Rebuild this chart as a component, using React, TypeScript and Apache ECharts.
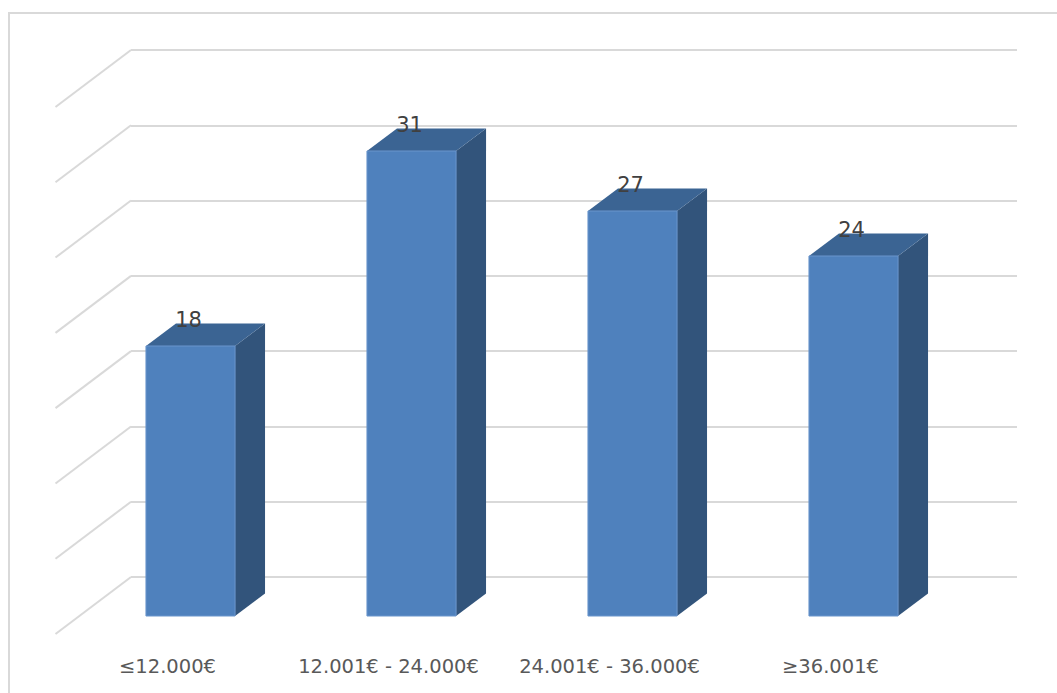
import React, { useEffect, useRef } from "react";
import * as echarts from "echarts";

// Income brackets and their counts
const categories = ["≤12.000€", "12.001€ - 24.000€", "24.001€ - 36.000€", "≥36.001€"];
const counts = [18, 31, 27, 24];

// Value axis range shared by the back wall and the bars
const axisMin = 0;
const axisMax = 35;
const axisStep = 5;
const wallTicks = [0, 5, 10, 15, 20, 25, 30, 35];

// Pseudo-3D geometry
const DEPTH_X = 30;
const DEPTH_Y = 22.5;
const WALL_X = 75.5;
const WALL_Y = 57;

const FRONT = "#4F81BD";
const TOP = "#3B6493";
const SIDE = "#32547B";
const GRID = "#d9d9d9";
const FONT = "DejaVu Sans";

export default function App() {
  const ref = useRef<HTMLDivElement>(null);

  useEffect(() => {
    if (!ref.current) return;
    const chart = echarts.init(ref.current, undefined, { renderer: "svg" });

    const option: any = {
      animation: false,
      backgroundColor: "#ffffff",
      graphic: [
        {
          type: "rect",
          shape: { x: 9, y: 13, width: 1100, height: 720 },
          style: { fill: "none", stroke: GRID, lineWidth: 2 },
          silent: true,
        },
      ],
      grid: [
        // back wall
        { left: 131, top: 50, width: 886, height: 527 },
        // front plane of the columns
        { left: 80, top: 91, width: 884, height: 525 },
      ],
      xAxis: [
        { type: "category", gridIndex: 0, data: categories, show: false },
        {
          type: "category",
          gridIndex: 1,
          data: categories,
          axisLine: { show: false },
          axisTick: { show: false },
          axisLabel: {
            interval: 0,
            hideOverlap: false,
            margin: 40,
            fontFamily: FONT,
            fontSize: 19.5,
            color: "#595959",
            lineHeight: 20,
            padding: [0, 46, 0, 0],
          },
        },
      ],
      yAxis: [
        {
          type: "value",
          gridIndex: 0,
          min: axisMin,
          max: axisMax,
          interval: axisStep,
          axisLine: { show: false },
          axisTick: { show: false },
          axisLabel: { show: false },
          splitLine: { lineStyle: { color: GRID, width: 2 } },
        },
        {
          type: "value",
          gridIndex: 1,
          min: axisMin,
          max: axisMax,
          interval: axisStep,
          show: false,
          splitLine: { show: false },
        },
      ],
      series: [
        {
          // side-wall lines running from each back-wall gridline
          type: "custom",
          xAxisIndex: 0,
          yAxisIndex: 0,
          silent: true,
          data: wallTicks.map((v) => [0, v]),
          encode: { x: 0, y: 1 },
          renderItem: (params: any, api: any) => {
            const y = api.coord([0, api.value(1)])[1];
            const x = params.coordSys.x;
            return {
              type: "line",
              shape: { x1: x, y1: y, x2: x - WALL_X, y2: y + WALL_Y },
              style: { stroke: GRID, lineWidth: 2 },
            };
          },
        },
        {
          type: "custom",
          xAxisIndex: 1,
          yAxisIndex: 1,
          data: counts.map((v, i) => [i, v]),
          encode: { x: 0, y: 1 },
          renderItem: (params: any, api: any) => {
            const idx = api.value(0);
            const val = api.value(1);
            const top = api.coord([idx, val]);
            const base = api.coord([idx, 0]);
            const w = api.size([1, 0])[0] * 0.403;
            const x0 = top[0] - w / 2;
            const x1 = top[0] + w / 2;
            const yt = top[1];
            const yb = base[1];
            return {
              type: "group",
              children: [
                {
                  type: "polygon",
                  shape: {
                    points: [
                      [x1, yb],
                      [x1 + DEPTH_X, yb - DEPTH_Y],
                      [x1 + DEPTH_X, yt - DEPTH_Y],
                      [x1, yt],
                    ],
                  },
                  style: { fill: SIDE },
                },
                {
                  type: "polygon",
                  shape: {
                    points: [
                      [x0, yt],
                      [x0 + DEPTH_X, yt - DEPTH_Y],
                      [x1 + DEPTH_X, yt - DEPTH_Y],
                      [x1, yt],
                    ],
                  },
                  style: { fill: TOP },
                },
                {
                  type: "rect",
                  shape: { x: x0, y: yt, width: w, height: yb - yt },
                  style: { fill: FRONT, stroke: "#6a95cc", lineWidth: 1 },
                },
                {
                  type: "text",
                  x: top[0] - 2,
                  y: yt - DEPTH_Y - 4,
                  style: {
                    text: String(val),
                    align: "center",
                    verticalAlign: "middle",
                    fontFamily: FONT,
                    fontSize: 21,
                    fill: "#404040",
                  },
                },
              ],
            };
          },
        },
      ],
    };

    chart.setOption(option);
    return () => chart.dispose();
  }, []);

  return (
    <div
      ref={ref}
      style={{ position: "fixed", left: 0, top: 0, width: 1057, height: 693 }}
    />
  );
}
